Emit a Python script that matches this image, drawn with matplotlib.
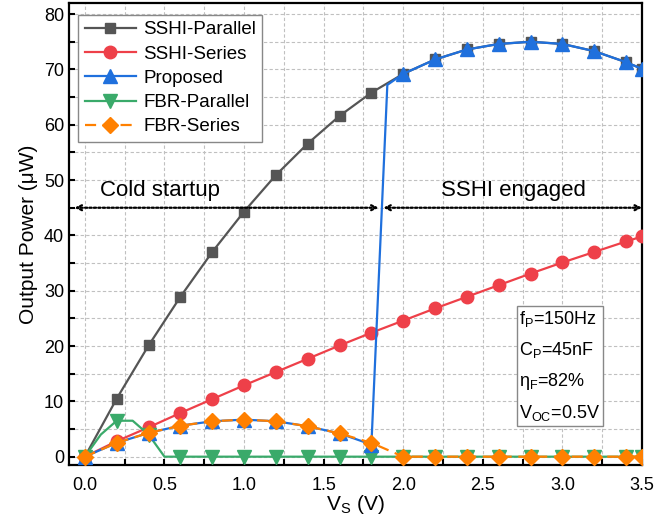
import matplotlib
matplotlib.use('Agg')
import matplotlib.pyplot as plt
from matplotlib.ticker import MultipleLocator

plt.rcParams['font.family'] = ['Liberation Sans', 'DejaVu Sans']
plt.rcParams['mathtext.fontset'] = 'custom'
plt.rcParams['mathtext.rm'] = 'Liberation Sans'
plt.rcParams['mathtext.it'] = 'Liberation Sans:italic'

# 数据
vs = [0.0, 0.2, 0.4, 0.6, 0.8, 1.0, 1.2, 1.4, 1.6, 1.8, 2.0, 2.2, 2.4, 2.6, 2.8, 3.0, 3.2, 3.4, 3.5]
sshi_parallel = [0, 10.5, 20.1, 28.9, 37.0, 44.3, 50.9, 56.6, 61.6, 65.8,
                 69.2, 71.8, 73.6, 74.6, 75.0, 74.6, 73.3, 71.3, 70.1]
sshi_series = [0, 2.8, 5.3, 7.9, 10.4, 12.9, 15.3, 17.7, 20.1, 22.4,
               24.6, 26.8, 28.9, 31.0, 33.1, 35.1, 37.0, 38.9, 39.8]
fbr_series = [0, 2.5, 4.3, 5.6, 6.4, 6.7, 6.4, 5.5, 4.2, 2.5,
              0, 0, 0, 0, 0, 0, 0, 0, 0]

# Proposed: 在1.9V处切换 (无标记点)
vs_prop = [0.0, 0.2, 0.4, 0.6, 0.8, 1.0, 1.2, 1.4, 1.6, 1.8, 1.9, 2.0, 2.2, 2.4, 2.6, 2.8, 3.0, 3.2, 3.4, 3.5]
proposed = [0, 2.5, 4.3, 5.6, 6.4, 6.7, 6.4, 5.5, 4.2, 2.2, 67.2,
            69.2, 71.8, 73.6, 74.6, 75.0, 74.6, 73.3, 71.3, 70.1]
prop_marks = [i for i in range(len(vs_prop)) if vs_prop[i] != 1.9]

# FBR-Parallel
vs_fbrp = [0.0, 0.1, 0.2, 0.3, 0.4, 0.5, 0.6, 0.8, 1.0, 1.2, 1.4, 1.6, 1.8, 2.0, 2.2, 2.4, 2.6, 2.8, 3.0, 3.2, 3.4, 3.5]
fbr_parallel = [0, 4.0, 6.5, 6.5, 4.0, 0, 0, 0, 0, 0, 0, 0, 0, 0, 0, 0, 0, 0, 0, 0, 0, 0]
fbrp_marks = [i for i in range(len(vs_fbrp)) if vs_fbrp[i] not in (0.1, 0.3, 0.5)]

fig = plt.figure(figsize=(6.71, 5.2), dpi=100)
ax = fig.add_axes([0.1028, 0.1058, 0.854, 0.8884])

ax.plot(vs, sshi_parallel, color='#555555', marker='s', ms=7.5, lw=1.6,
        label='SSHI-Parallel', zorder=3)
ax.plot(vs, sshi_series, color='#EE4049', marker='o', ms=9, lw=1.6,
        label='SSHI-Series', zorder=3)
ax.plot(vs_prop, proposed, color='#1F70DD', marker='^', ms=10, lw=1.6,
        markevery=prop_marks, label='Proposed', zorder=4)
ax.plot(vs_fbrp, fbr_parallel, color='#3AAA6A', marker='v', ms=9.5, lw=1.6,
        markevery=fbrp_marks, label='FBR-Parallel', zorder=3)
ax.plot(vs, fbr_series, color='#FF8000', marker='D', ms=8, lw=1.6,
        linestyle=(0, (5, 3)), label='FBR-Series', zorder=5)

ax.set_xlim(-0.1, 3.5)
ax.set_ylim(-1.5, 82)
ax.xaxis.set_major_locator(MultipleLocator(0.5))
ax.xaxis.set_minor_locator(MultipleLocator(0.25))
ax.yaxis.set_major_locator(MultipleLocator(10))
ax.yaxis.set_minor_locator(MultipleLocator(5))
ax.xaxis.set_major_formatter(plt.FormatStrFormatter('%.1f'))
ax.grid(True, which='both', color='#c0c0c0', linestyle=(0, (3, 2)), lw=0.8, zorder=0)
ax.tick_params(which='both', direction='in', length=4, width=1.5, labelsize=13)
ax.tick_params(axis='x', pad=9)
for s in ax.spines.values():
    s.set_linewidth(1.6)

ax.set_xlabel(r'V$_\mathrm{S}$ (V)', fontsize=15, labelpad=-1)
ax.set_ylabel('Output Power (μW)', fontsize=15, labelpad=4)

# 区域标注箭头
arrow = dict(arrowstyle='<->', linestyle=(0, (1, 1)), lw=1.6, color='black',
             shrinkA=0, shrinkB=0, mutation_scale=9)
ax.annotate('', xy=(-0.065, 45), xytext=(1.845, 45), arrowprops=arrow)
ax.annotate('', xy=(1.875, 45), xytext=(3.5, 45), arrowprops=arrow)
ax.text(0.47, 46.3, 'Cold startup', fontsize=16, ha='center', va='bottom')
ax.text(2.69, 46.3, 'SSHI engaged', fontsize=16, ha='center', va='bottom')

ax.text(2.73, 6.0,
        'f$_\\mathrm{P}$=150Hz\nC$_\\mathrm{P}$=45nF\nη$_\\mathrm{F}$=82%\nV$_\\mathrm{OC}$=0.5V',
        fontsize=13, ha='left', va='bottom', linespacing=1.75,
        bbox=dict(boxstyle='square,pad=0.15', fc='white', ec='#888888', lw=1))

leg = ax.legend(loc='upper left', bbox_to_anchor=(0.0, 0.995), fontsize=13.5,
                handlelength=2.7, labelspacing=0.38, borderpad=0.35,
                handletextpad=0.4, fancybox=False, framealpha=1,
                edgecolor='#888888')
leg.get_frame().set_linewidth(1)

fig.savefig('out.png', dpi=100)
